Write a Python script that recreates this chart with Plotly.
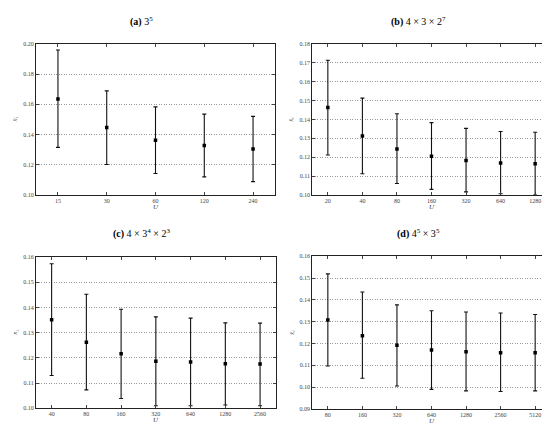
import plotly.graph_objects as go

# ---- data ----
cats_a = ["15", "30", "60", "120", "240"]
mean_a = [0.1635, 0.1446, 0.1363, 0.1328, 0.1304]
up_a   = [0.1959, 0.1689, 0.1583, 0.1535, 0.1520]
lo_a   = [0.1315, 0.1202, 0.1143, 0.1120, 0.1089]

cats_b = ["20", "40", "80", "160", "320", "640", "1280"]
mean_b = [0.1463, 0.1313, 0.1243, 0.1205, 0.1183, 0.1170, 0.1165]
up_b   = [0.1713, 0.1513, 0.1430, 0.1383, 0.1353, 0.1336, 0.1332]
lo_b   = [0.1212, 0.1113, 0.1061, 0.1030, 0.1017, 0.1007, 0.1000]

cats_c = ["40", "80", "160", "320", "640", "1280", "2560"]
mean_c = [0.1352, 0.1262, 0.1217, 0.1187, 0.1184, 0.1177, 0.1176]
up_c   = [0.1574, 0.1453, 0.1393, 0.1363, 0.1358, 0.1339, 0.1338]
lo_c   = [0.1130, 0.1073, 0.1039, 0.1010, 0.1010, 0.1013, 0.1010]

cats_d = ["80", "160", "320", "640", "1280", "2560", "5120"]
mean_d = [0.1308, 0.1236, 0.1192, 0.1170, 0.1162, 0.1158, 0.1158]
up_d   = [0.1519, 0.1436, 0.1377, 0.1350, 0.1344, 0.1340, 0.1333]
lo_d   = [0.1097, 0.1041, 0.1005, 0.0990, 0.0983, 0.0980, 0.0983]

titles = ["<b>(a)</b> 3<sup>5</sup>",
          "<b>(b)</b> 4 × 3 × 2<sup>7</sup>",
          "<b>(c)</b> 4 × 3<sup>4</sup> × 2<sup>3</sup>",
          "<b>(d)</b> 4<sup>5</sup> × 3<sup>5</sup>"]
yranges = [(0.10, 0.20, 0.02), (0.10, 0.18, 0.01), (0.10, 0.16, 0.01), (0.09, 0.16, 0.01)]
x_title = "<i>U</i>"
y_title = "<i>x̄<sub>i</sub></i>"

panels = [(cats_a, mean_a, up_a, lo_a), (cats_b, mean_b, up_b, lo_b),
          (cats_c, mean_c, up_c, lo_c), (cats_d, mean_d, up_d, lo_d)]

W, H = 550, 424
# plot-area pixel boxes: (left, right, top, bottom)
boxes = [(28, 267, 33.3, 186.7), (304.3, 542.7, 33.3, 186.7),
         (28, 267.7, 249.7, 403), (304.3, 542.7, 248.7, 403.7)]
title_pos = [(133, 11), (410, 11), (133, 226), (410, 226)]

serif = "DejaVu Serif, Liberation Serif, serif"
tickfont = dict(family="Liberation Serif, serif", size=6, color="#444")
fig = go.Figure()
for i, ((cats, m, u, l), (x0, x1, t, b), (y0, y1, dt), ttl, (tx, ty)) in enumerate(
        zip(panels, boxes, yranges, titles, title_pos)):
    n = i + 1
    xa = "x" if n == 1 else f"x{n}"
    ya = "y" if n == 1 else f"y{n}"
    fig.add_trace(go.Scatter(
        x=cats, y=m, mode="markers", xaxis=xa, yaxis=ya,
        marker=dict(symbol="square", size=3.5, color="black"),
        error_y=dict(type="data", symmetric=False,
                     array=[uu - mm for uu, mm in zip(u, m)],
                     arrayminus=[mm - ll for mm, ll in zip(m, l)],
                     color="#111", thickness=1.1, width=2),
        showlegend=False))
    axcommon = dict(showline=True, mirror="ticks", linecolor="#222", linewidth=1,
                    ticks="inside", ticklen=3, tickcolor="#444", tickwidth=0.8,
                    tickfont=tickfont)
    fig.layout[("xaxis" if n == 1 else f"xaxis{n}")] = dict(
        domain=[x0 / W, x1 / W], anchor=ya, type="category",
        range=[-0.45, len(cats) - 1 + 0.45], showgrid=False, **axcommon)
    fig.layout[("yaxis" if n == 1 else f"yaxis{n}")] = dict(
        domain=[1 - b / H, 1 - t / H], anchor=xa, range=[y0, y1], dtick=dt,
        tick0=y0, tickformat=".2f", showgrid=True, gridcolor="#999",
        griddash="1px,1.5px", gridwidth=0.8, zeroline=False, **axcommon)
    fig.add_annotation(text=ttl, x=tx / W, y=1 - ty / H, xref="paper", yref="paper",
                       showarrow=False, xanchor="center", yanchor="middle",
                       font=dict(family="Liberation Serif, serif", size=10, color="black"))
    # axis titles
    fig.add_annotation(text=x_title, x=(x0 + x1) / 2 / W, y=1 - (b + 12) / H,
                       xref="paper", yref="paper", showarrow=False,
                       xanchor="center", yanchor="middle",
                       font=dict(family="Liberation Serif, serif", size=7, color="#444"))
    fig.add_annotation(text=y_title, x=(x0 - 21) / W, y=1 - (t + b) / 2 / H,
                       xref="paper", yref="paper", showarrow=False, textangle=-90,
                       xanchor="center", yanchor="middle",
                       font=dict(family="Liberation Serif, serif", size=7, color="#444"))

fig.update_layout(width=W, height=H, margin=dict(l=0, r=0, t=0, b=0),
                  paper_bgcolor="white", plot_bgcolor="white")
fig.write_html("out.html")
